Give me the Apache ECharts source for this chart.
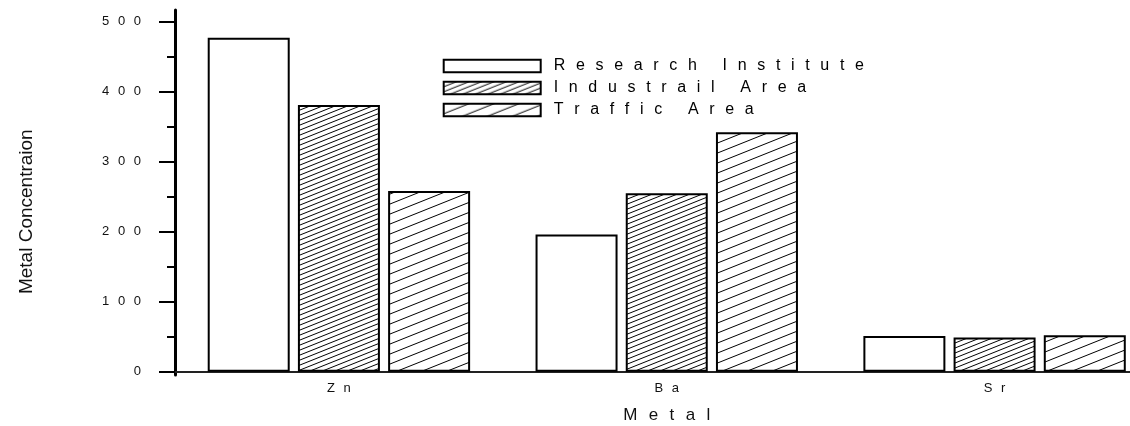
<!DOCTYPE html>
<html>
<head>
<meta charset="utf-8">
<script src="https://cdn.jsdelivr.net/npm/echarts@6/dist/echarts.min.js"></script>
<style>
  html, body { margin: 0; padding: 0; background: #fff; }
  #chart { width: 1130px; height: 426px; }
</style>
</head>
<body>
<div id="chart"></div>
<script>
const categories = ['Zn', 'Ba', 'Sr'];
const researchInstitute = [477, 196, 51];
const industrailArea = [381, 255, 49];
const trafficArea = [258, 342, 52];
const seriesNames = ['Research Institute', 'Industrail Area', 'Traffic Area'];

const FONT = '"Liberation Sans", Arial, sans-serif';

// spaced-out lettering like the original plot export
const spread = s => s.split('').join('\u2002\u2006');

// diagonal hatch tile, lines rising to the right
function hatch(spacing) {
  const w = 25, h = 10;
  const c = document.createElement('canvas');
  c.width = w; c.height = h;
  const ctx = c.getContext('2d');
  ctx.fillStyle = '#fff';
  ctx.fillRect(0, 0, w, h);
  ctx.strokeStyle = '#000';
  ctx.lineWidth = 1;
  for (let off = -h; off <= 2 * h; off += spacing) {
    ctx.beginPath();
    ctx.moveTo(-2.5, off + h + 1);
    ctx.lineTo(w + 2.5, off - 1);
    ctx.stroke();
  }
  return c;
}

const barStyle = color => ({ color: color, borderColor: '#000', borderWidth: 2 });

const chart = echarts.init(document.getElementById('chart'));

chart.setOption({
  animation: false,
  textStyle: { fontFamily: FONT },
  // plot area runs a little past the right edge, as in the original
  grid: [
    { left: 175, width: 983.5, top: 21.7, height: 350, outerBoundsMode: 'none', containLabel: false },
    { left: 175, width: 983.5, top: 10, height: 365, outerBoundsMode: 'none', containLabel: false }
  ],
  legend: {
    orient: 'vertical',
    left: 437.7,
    top: 53,
    itemWidth: 97,
    itemHeight: 12.5,
    itemGap: 6,
    icon: 'rect',
    selectedMode: false,
    data: seriesNames,
    formatter: n => '\u2002' + spread(n),
    textStyle: { fontSize: 16, color: '#000', fontFamily: FONT }
  },
  xAxis: [
    {
      type: 'category',
      gridIndex: 0,
      data: categories,
      position: 'bottom',
      axisLine: { lineStyle: { color: '#222', width: 2 } },
      axisTick: { alignWithLabel: true, length: 6, lineStyle: { color: '#000', width: 2.5 } },
      axisLabel: { formatter: spread, fontSize: 13, color: '#111', margin: 10 },
      name: spread('Metal'),
      nameLocation: 'middle',
      nameGap: 35,
      nameTextStyle: { fontSize: 17, color: '#111' }
    },
    {
      type: 'category',
      gridIndex: 0,
      data: categories,
      position: 'bottom',
      axisLine: { show: false },
      axisTick: { length: 3, lineStyle: { color: '#000', width: 2 } },
      axisLabel: { show: false }
    },
    { type: 'value', gridIndex: 1, show: false }
  ],
  yAxis: [
    {
      type: 'value',
      gridIndex: 0,
      min: 0,
      max: 500,
      interval: 100,
      axisLine: { show: false },
      axisTick: { show: true, inside: false, length: 16, lineStyle: { color: '#000', width: 2 } },
      minorTick: { show: true, splitNumber: 2, length: 8, lineStyle: { color: '#000', width: 2 } },
      splitLine: { show: false },
      axisLabel: { formatter: v => spread(String(v)), fontSize: 13, color: '#111', margin: 34 },
      name: 'Metal Concentraion',
      nameLocation: 'middle',
      nameGap: 139,
      nameTextStyle: { fontSize: 19, color: '#111', padding: [0, 30, 0, 0] }
    },
    {
      type: 'value',
      gridIndex: 1,
      min: 0,
      max: 1,
      axisLine: { show: true, lineStyle: { color: '#000', width: 3 } },
      axisTick: { show: false },
      axisLabel: { show: false },
      splitLine: { show: false }
    }
  ],
  series: [
    {
      name: seriesNames[0],
      type: 'bar',
      data: researchInstitute,
      barWidth: 82,
      barGap: '10%',
      itemStyle: barStyle('#fff')
    },
    {
      name: seriesNames[1],
      type: 'bar',
      data: industrailArea,
      barWidth: 82,
      barGap: '10%',
      itemStyle: barStyle({ image: hatch(5), repeat: 'repeat' })
    },
    {
      name: seriesNames[2],
      type: 'bar',
      data: trafficArea,
      barWidth: 82,
      barGap: '10%',
      itemStyle: barStyle({ image: hatch(10), repeat: 'repeat' })
    }
  ]
});
</script>
</body>
</html>
